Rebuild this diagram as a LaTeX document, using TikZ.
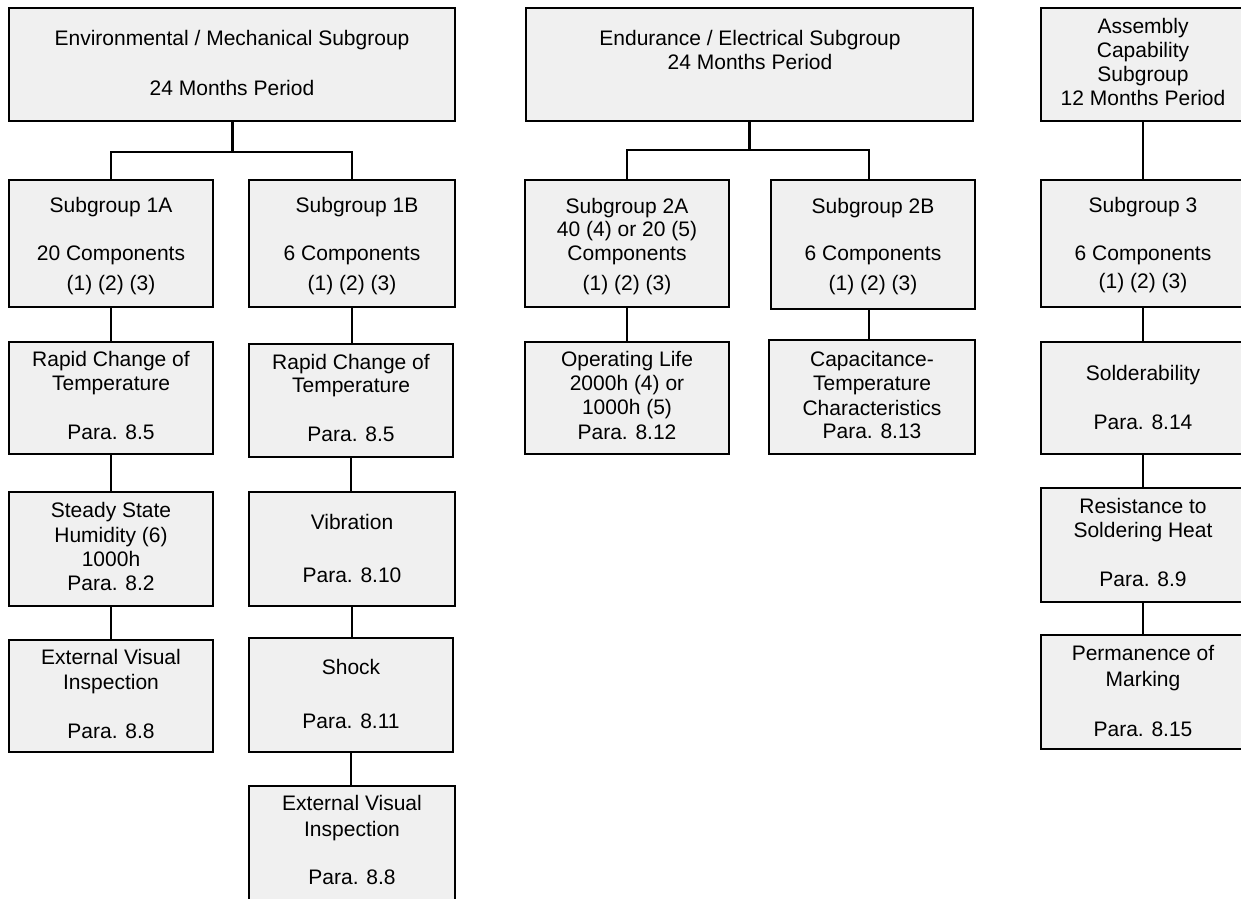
\documentclass[tikz,border=0pt]{standalone}
\usepackage{fontspec}
\setmainfont{Liberation Sans}
\definecolor{boxgray}{RGB}{240,240,240}
\newcommand\bx[5]{\node[box, minimum width={(#4-#2)*1pt}, minimum height={(#5-#3)*1pt}] (#1) at ({(#2+#4)/2},{(#3+#5)/2}) {};}
\newcommand\lns[3]{\foreach \yy/\lbl [count=\k] in {#3} \node[txt] (#1-\k) at (#2,\yy) {\lbl};}
\begin{document}
\begin{tikzpicture}[x=1pt,y=-1pt,
  box/.style={draw=black, line width=2pt, fill=boxgray, rectangle, inner sep=0pt},
  txt/.style={anchor=base, inner sep=0pt, font=\fontsize{21}{24}\selectfont},
  conn/.style={line width=2pt}]
\useasboundingbox (0,0) rectangle (1241,898);
\clip (0,0) rectangle (1241,898);
% boxes
\bx{env}{9}{8}{455}{121}
\bx{end}{526}{8}{973}{121}
\bx{asm}{1041}{8}{1245}{121}
\bx{s1a}{9}{180}{213}{307}
\bx{s1b}{249}{180}{455}{307}
\bx{r1a}{9}{342}{213}{454}
\bx{r1b}{249}{344}{453}{457}
\bx{hum}{9}{492}{213}{606}
\bx{vib}{249}{492}{455}{606}
\bx{eva}{9}{640}{213}{752}
\bx{shk}{249}{638}{453}{752}
\bx{evb}{249}{786}{455}{910}
\bx{s2a}{525}{180}{729}{307}
\bx{s2b}{771}{180}{975}{309}
\bx{op}{525}{342}{729}{454}
\bx{cap}{769}{340}{975}{454}
\bx{s3}{1041}{180}{1245}{307}
\bx{sol}{1041}{342}{1245}{454}
\bx{res}{1041}{488}{1245}{602}
\bx{perm}{1041}{635}{1245}{749}
% texts
\lns{tenv}{232}{45.7/{Environmental / Mechanical Subgroup}, 95.7/{24 Months Period}}
\lns{tend}{750}{45.7/{Endurance / Electrical Subgroup}, 69/{24 Months Period}}
\lns{tasm}{1143}{33/{Assembly}, 57/{Capability}, 81/{Subgroup}, 105/{12 Months Period}}
\lns{ts1a}{111}{212.7/{Subgroup 1A}, 260.7/{20 Components}, 290.7/{(1) (2) (3)}}
\node[txt] (ts1b-1) at (357,212.7) {Subgroup 1B};
\lns{ts1b}{352}{260.7/{6 Components}, 290.7/{(1) (2) (3)}}
\lns{tr1a}{111}{366.5/{Rapid Change of}, 390.5/{Temperature}, 439/{Para. 8.5}}
\lns{tr1b}{351}{369/{Rapid Change of}, 392/{Temperature}, 441.7/{Para. 8.5}}
\lns{thum}{111}{517.3/{Steady State}, 542/{Humidity (6)}, 566.5/{1000h}, 590.7/{Para. 8.2}}
\lns{tvib}{352}{529/{Vibration}, 582.7/{Para. 8.10}}
\lns{teva}{111}{664/{External Visual}, 689/{Inspection}, 738.3/{Para. 8.8}}
\lns{tshk}{351}{674.3/{Shock}, 728.3/{Para. 8.11}}
\lns{tevb}{352}{810.7/{External Visual}, 836.7/{Inspection}, 884/{Para. 8.8}}
\lns{ts2a}{627}{213.3/{Subgroup 2A}, 236.7/{40 (4) or 20 (5)}, 260.7/{Components}, 290.7/{(1) (2) (3)}}
\lns{ts2b}{873}{213.3/{Subgroup 2B}, 260.7/{6 Components}, 290.7/{(1) (2) (3)}}
\lns{top}{627}{366/{Operating Life}, 390/{2000h (4) or}, 414/{1000h (5)}, 439.3/{Para. 8.12}}
\lns{tcap}{872}{366/{Capacitance-}, 390/{Temperature}, 415/{Characteristics}, 438.3/{Para. 8.13}}
\lns{ts3}{1143}{212.7/{Subgroup 3}, 260.7/{6 Components}, 288.3/{(1) (2) (3)}}
\lns{tsol}{1143}{380/{Solderability}, 429.3/{Para. 8.14}}
\lns{tres}{1143}{513.3/{Resistance to}, 537.3/{Soldering Heat}, 586.7/{Para. 8.9}}
\lns{tperm}{1143}{660/{Permanence of}, 686.7/{Marking}, 736/{Para. 8.15}}
% connectors
\coordinate (envj) at (232,152);
\coordinate (endj) at (749,150);
\coordinate (s2bt) at (869,180);
\draw[conn, line width=3pt] (env.south -| envj) -- (envj);
\draw[conn, line width=1.6pt] (s1a.north) |- (envj) -| (s1b.north);
\draw[conn, line width=3pt] (end.south -| endj) -- (endj);
\draw[conn, line width=1.6pt] (s2a.north) |- (endj) -| (s2bt);
\draw[conn] (asm.south) -- (s3.north);
\draw[conn] (s1a.south) -- (s1a.south |- r1a.north);
\draw[conn] (r1a.south) -- (r1a.south |- hum.north);
\draw[conn] (hum.south) -- (hum.south |- eva.north);
\draw[conn] (s1b.south) -- (s1b.south |- r1b.north);
\draw[conn] (r1b.south) -- (r1b.south |- vib.north);
\draw[conn] (vib.south) -- (vib.south |- shk.north);
\draw[conn] (shk.south) -- (shk.south |- evb.north);
\draw[conn] (s2a.south) -- (s2a.south |- op.north);
\draw[conn] (s2bt |- s2b.south) -- (s2bt |- cap.north);
\draw[conn] (s3.south) -- (s3.south |- sol.north);
\draw[conn] (sol.south) -- (sol.south |- res.north);
\draw[conn] (res.south) -- (res.south |- perm.north);
\end{tikzpicture}
\end{document}
